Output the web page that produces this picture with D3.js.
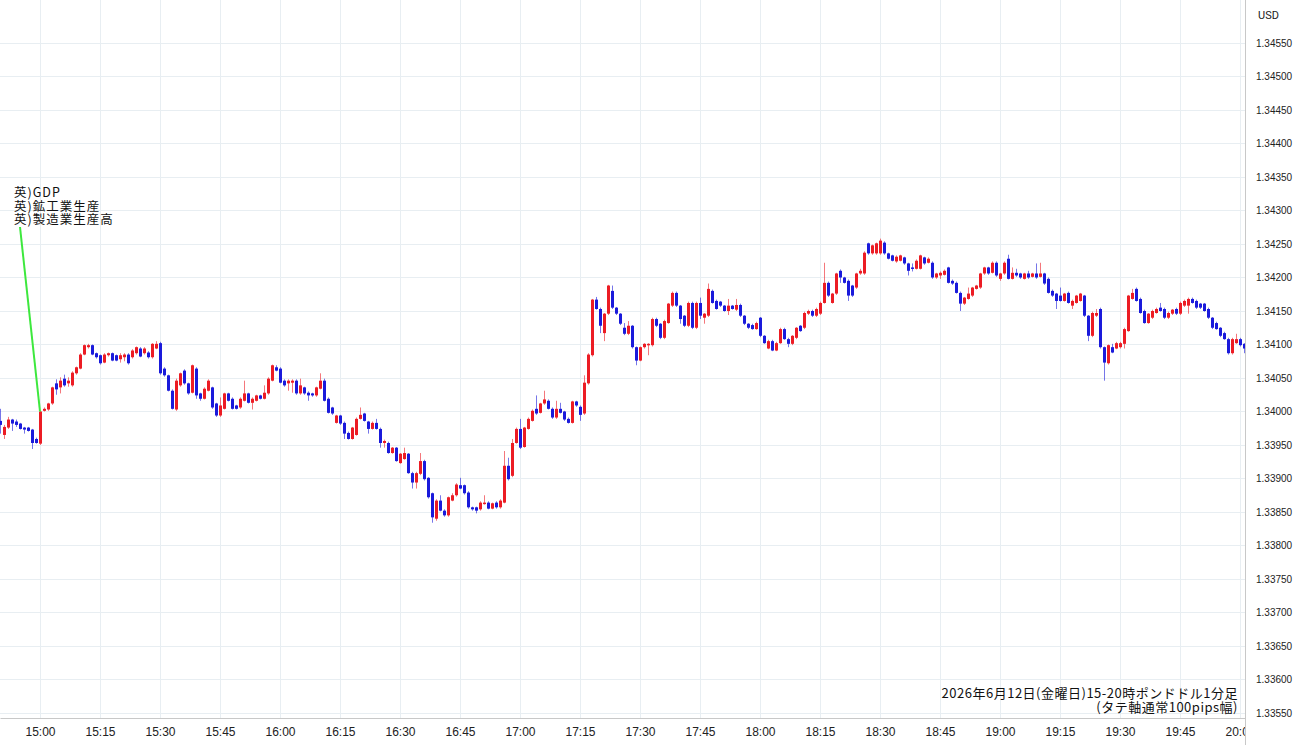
<!DOCTYPE html>
<html>
<head>
<meta charset="utf-8">
<script src="https://cdn.jsdelivr.net/npm/d3@7"></script>
<style>
body { margin: 0; background: #fff; }
svg { display: block; font-family: Roboto, "Noto Sans", sans-serif; }
</style>
</head>
<body>
<div id="chart"></div>
<script>
// 1 minute GBP/USD candles, first candle at 14:50
var startTime = new Date(2026, 5, 12, 14, 50);

var opens = [
1.33986,1.33965,1.33976,1.33988,1.33985,1.33982,1.33976,1.33976,1.33973,1.33959,
1.33952,1.34001,1.34003,1.34012,1.34042,1.34036,1.34049,1.34042,1.34039,1.34057,
1.34064,1.34085,1.34096,1.34099,1.34087,1.34084,1.34073,1.34084,1.34087,1.34084,
1.34078,1.34081,1.34085,1.34081,1.34087,1.34094,1.34087,1.34088,1.34081,1.34094,
1.34102,1.34064,1.34054,1.34031,1.34003,1.34039,1.34061,1.34042,1.34028,1.34064,
1.34027,1.34019,1.34031,1.34036,1.34012,1.33994,1.34004,1.34027,1.34019,1.34009,
1.34006,1.34016,1.34027,1.34013,1.34016,1.34024,1.34019,1.34027,1.34046,1.34066,
1.34064,1.34046,1.34042,1.34043,1.34046,1.34027,1.34036,1.34028,1.34027,1.34024,
1.34034,1.34046,1.34019,1.34006,1.33983,1.33994,1.33983,1.33968,1.33959,1.33965,
1.33989,1.33997,1.33985,1.33974,1.33983,1.33974,1.33953,1.33953,1.33938,1.33946,
1.33923,1.33929,1.33937,1.33908,1.33894,1.33907,1.33926,1.33901,1.33878,1.33840,
1.33867,1.33852,1.33845,1.33867,1.33875,1.33890,1.33890,1.33879,1.33857,1.33857,
1.33854,1.33863,1.33864,1.33855,1.33864,1.33857,1.33864,1.33919,1.33904,1.33953,
1.33974,1.33947,1.33974,1.33986,1.34004,1.33998,1.34012,1.34016,1.34004,1.33991,
1.34004,1.34000,1.33989,1.33983,1.34015,1.34007,1.33997,1.34042,1.34084,1.34167,
1.34153,1.34117,1.34146,1.34180,1.34155,1.34146,1.34125,1.34116,1.34128,1.34096,
1.34076,1.34096,1.34099,1.34099,1.34138,1.34131,1.34110,1.34132,1.34158,1.34177,
1.34158,1.34143,1.34128,1.34162,1.34125,1.34162,1.34140,1.34143,1.34180,1.34165,
1.34164,1.34158,1.34150,1.34158,1.34152,1.34159,1.34143,1.34131,1.34129,1.34123,
1.34140,1.34113,1.34094,1.34105,1.34091,1.34102,1.34123,1.34108,1.34101,1.34110,
1.34128,1.34125,1.34146,1.34150,1.34143,1.34146,1.34162,1.34192,1.34162,1.34176,
1.34210,1.34200,1.34195,1.34188,1.34185,1.34206,1.34206,1.34251,1.34236,1.34236,
1.34236,1.34252,1.34236,1.34233,1.34224,1.34225,1.34230,1.34221,1.34215,1.34213,
1.34213,1.34230,1.34222,1.34222,1.34200,1.34203,1.34204,1.34215,1.34195,1.34192,
1.34177,1.34161,1.34168,1.34173,1.34183,1.34185,1.34206,1.34215,1.34207,1.34222,
1.34198,1.34206,1.34228,1.34198,1.34207,1.34206,1.34198,1.34206,1.34201,1.34206,
1.34201,1.34206,1.34198,1.34180,1.34176,1.34173,1.34165,1.34177,1.34158,1.34162,
1.34165,1.34173,1.34143,1.34113,1.34143,1.34153,1.34096,1.34072,1.34096,1.34094,
1.34096,1.34101,1.34120,1.34168,1.34183,1.34168,1.34150,1.34132,1.34140,1.34147,
1.34155,1.34153,1.34140,1.34146,1.34153,1.34146,1.34158,1.34158,1.34168,1.34165,
1.34161,1.34161,1.34153,1.34140,1.34132,1.34125,1.34117,1.34108,1.34087,1.34102,
1.34108,1.34101
];

var highs = [
1.34004,1.33980,1.33992,1.33989,1.33988,1.33983,1.33977,1.33977,1.33974,1.33961,
1.34001,1.34006,1.34013,1.34037,1.34048,1.34051,1.34055,1.34051,1.34060,1.34067,
1.34087,1.34100,1.34101,1.34100,1.34088,1.34085,1.34087,1.34088,1.34088,1.34085,
1.34087,1.34087,1.34087,1.34093,1.34097,1.34096,1.34096,1.34090,1.34102,1.34105,
1.34104,1.34066,1.34055,1.34033,1.34049,1.34058,1.34063,1.34043,1.34070,1.34066,
1.34028,1.34036,1.34048,1.34037,1.34013,1.34021,1.34028,1.34028,1.34021,1.34010,
1.34021,1.34046,1.34028,1.34021,1.34025,1.34025,1.34039,1.34051,1.34070,1.34069,
1.34066,1.34048,1.34048,1.34048,1.34048,1.34049,1.34037,1.34030,1.34028,1.34037,
1.34057,1.34049,1.34021,1.34007,1.33995,1.33995,1.33985,1.33970,1.33977,1.33991,
1.34006,1.33998,1.33986,1.33985,1.33989,1.33976,1.33958,1.33955,1.33947,1.33947,
1.33938,1.33946,1.33938,1.33910,1.33910,1.33938,1.33928,1.33902,1.33879,1.33869,
1.33875,1.33854,1.33873,1.33878,1.33893,1.33901,1.33891,1.33881,1.33858,1.33858,
1.33866,1.33875,1.33866,1.33864,1.33866,1.33869,1.33941,1.33931,1.33959,1.33976,
1.33989,1.33977,1.33991,1.34003,1.34024,1.34013,1.34031,1.34018,1.34006,1.34016,
1.34013,1.34001,1.33991,1.34016,1.34016,1.34009,1.34054,1.34087,1.34168,1.34171,
1.34155,1.34147,1.34189,1.34188,1.34156,1.34147,1.34132,1.34135,1.34129,1.34097,
1.34097,1.34102,1.34102,1.34140,1.34140,1.34132,1.34137,1.34162,1.34179,1.34179,
1.34159,1.34144,1.34164,1.34164,1.34164,1.34170,1.34147,1.34191,1.34182,1.34167,
1.34165,1.34159,1.34168,1.34159,1.34168,1.34161,1.34144,1.34132,1.34131,1.34134,
1.34141,1.34114,1.34107,1.34107,1.34104,1.34125,1.34125,1.34110,1.34114,1.34126,
1.34129,1.34149,1.34152,1.34152,1.34155,1.34164,1.34222,1.34194,1.34177,1.34207,
1.34212,1.34201,1.34197,1.34189,1.34207,1.34213,1.34239,1.34252,1.34249,1.34252,
1.34258,1.34254,1.34237,1.34234,1.34233,1.34234,1.34231,1.34222,1.34221,1.34227,
1.34234,1.34231,1.34230,1.34224,1.34207,1.34209,1.34212,1.34216,1.34197,1.34194,
1.34179,1.34171,1.34185,1.34186,1.34189,1.34207,1.34216,1.34216,1.34224,1.34224,
1.34207,1.34224,1.34234,1.34215,1.34213,1.34207,1.34207,1.34210,1.34207,1.34221,
1.34222,1.34207,1.34200,1.34182,1.34177,1.34185,1.34177,1.34179,1.34167,1.34174,
1.34177,1.34174,1.34144,1.34149,1.34153,1.34155,1.34097,1.34100,1.34101,1.34104,
1.34104,1.34125,1.34174,1.34183,1.34185,1.34170,1.34152,1.34147,1.34152,1.34155,
1.34162,1.34155,1.34149,1.34153,1.34155,1.34164,1.34167,1.34170,1.34170,1.34167,
1.34162,1.34162,1.34155,1.34141,1.34134,1.34126,1.34119,1.34110,1.34110,1.34116,
1.34110,1.34102
];

var lows = [
1.33967,1.33959,1.33974,1.33971,1.33977,1.33973,1.33967,1.33970,1.33944,1.33952,
1.33950,1.34000,1.34001,1.34010,1.34025,1.34027,1.34037,1.34037,1.34037,1.34055,
1.34063,1.34084,1.34094,1.34084,1.34079,1.34070,1.34072,1.34082,1.34075,1.34075,
1.34073,1.34075,1.34070,1.34079,1.34085,1.34081,1.34085,1.34079,1.34079,1.34093,
1.34055,1.34052,1.34030,1.34003,1.34001,1.34037,1.34040,1.34025,1.34027,1.34019,
1.34016,1.34018,1.34030,1.34004,1.33992,1.33992,1.34003,1.34015,1.34003,1.34003,
1.34004,1.34015,1.34012,1.34003,1.34015,1.34018,1.34018,1.34025,1.34045,1.34060,
1.34042,1.34037,1.34031,1.34028,1.34025,1.34025,1.34025,1.34016,1.34022,1.34022,
1.34033,1.34015,1.33997,1.33995,1.33982,1.33980,1.33959,1.33958,1.33958,1.33964,
1.33988,1.33985,1.33967,1.33973,1.33973,1.33946,1.33946,1.33937,1.33937,1.33925,
1.33922,1.33928,1.33907,1.33885,1.33885,1.33905,1.33897,1.33870,1.33834,1.33837,
1.33851,1.33843,1.33843,1.33866,1.33873,1.33884,1.33876,1.33855,1.33852,1.33848,
1.33852,1.33861,1.33854,1.33854,1.33855,1.33855,1.33863,1.33897,1.33902,1.33952,
1.33944,1.33946,1.33973,1.33985,1.33995,1.33997,1.34010,1.34003,1.33989,1.33989,
1.33997,1.33986,1.33982,1.33982,1.34007,1.33986,1.33995,1.34040,1.34082,1.34152,
1.34117,1.34105,1.34144,1.34153,1.34144,1.34129,1.34114,1.34114,1.34094,1.34069,
1.34075,1.34094,1.34084,1.34097,1.34126,1.34108,1.34108,1.34131,1.34156,1.34156,
1.34131,1.34126,1.34126,1.34123,1.34123,1.34138,1.34131,1.34141,1.34161,1.34152,
1.34156,1.34149,1.34144,1.34152,1.34150,1.34141,1.34129,1.34123,1.34122,1.34122,
1.34111,1.34101,1.34093,1.34090,1.34090,1.34101,1.34107,1.34096,1.34099,1.34108,
1.34119,1.34123,1.34144,1.34141,1.34141,1.34144,1.34161,1.34171,1.34161,1.34174,
1.34192,1.34191,1.34165,1.34171,1.34183,1.34204,1.34204,1.34234,1.34234,1.34234,
1.34234,1.34234,1.34227,1.34224,1.34222,1.34224,1.34219,1.34203,1.34209,1.34212,
1.34212,1.34219,1.34221,1.34198,1.34198,1.34198,1.34203,1.34191,1.34189,1.34176,
1.34150,1.34159,1.34167,1.34171,1.34182,1.34183,1.34204,1.34204,1.34206,1.34201,
1.34195,1.34204,1.34197,1.34197,1.34201,1.34198,1.34197,1.34198,1.34200,1.34198,
1.34200,1.34189,1.34176,1.34171,1.34153,1.34164,1.34164,1.34161,1.34153,1.34161,
1.34164,1.34141,1.34105,1.34111,1.34141,1.34094,1.34046,1.34070,1.34087,1.34093,
1.34094,1.34094,1.34119,1.34167,1.34164,1.34146,1.34131,1.34131,1.34138,1.34146,
1.34149,1.34138,1.34138,1.34144,1.34144,1.34144,1.34156,1.34146,1.34161,1.34153,
1.34153,1.34149,1.34138,1.34123,1.34122,1.34111,1.34107,1.34085,1.34085,1.34101,
1.34097,1.34087
];

var closes = [
1.33980,1.33977,1.33988,1.33982,1.33980,1.33974,1.33973,1.33971,1.33953,1.33953,
1.34000,1.34004,1.34012,1.34036,1.34033,1.34046,1.34039,1.34046,1.34058,1.34066,
1.34085,1.34099,1.34099,1.34085,1.34081,1.34072,1.34085,1.34087,1.34076,1.34076,
1.34084,1.34085,1.34072,1.34091,1.34096,1.34082,1.34094,1.34081,1.34101,1.34101,
1.34057,1.34054,1.34031,1.34004,1.34046,1.34057,1.34042,1.34027,1.34069,1.34024,
1.34019,1.34034,1.34046,1.34006,1.33994,1.34009,1.34027,1.34016,1.34004,1.34004,
1.34019,1.34027,1.34013,1.34019,1.34024,1.34019,1.34028,1.34049,1.34069,1.34061,
1.34043,1.34039,1.34046,1.34046,1.34027,1.34039,1.34027,1.34024,1.34024,1.34036,
1.34046,1.34016,1.33998,1.33997,1.33994,1.33982,1.33967,1.33959,1.33976,1.33989,
1.33995,1.33986,1.33974,1.33983,1.33974,1.33953,1.33956,1.33938,1.33946,1.33926,
1.33937,1.33938,1.33908,1.33894,1.33908,1.33926,1.33899,1.33872,1.33842,1.33867,
1.33852,1.33845,1.33872,1.33875,1.33891,1.33885,1.33878,1.33857,1.33854,1.33852,
1.33864,1.33864,1.33855,1.33863,1.33857,1.33867,1.33919,1.33899,1.33953,1.33974,
1.33946,1.33976,1.33989,1.34001,1.33997,1.34012,1.34018,1.34004,1.33991,1.34004,
1.33998,1.33988,1.33983,1.34015,1.34009,1.33995,1.34043,1.34085,1.34167,1.34153,
1.34128,1.34146,1.34188,1.34155,1.34146,1.34131,1.34116,1.34128,1.34096,1.34076,
1.34096,1.34101,1.34101,1.34138,1.34128,1.34110,1.34135,1.34161,1.34177,1.34158,
1.34138,1.34128,1.34162,1.34125,1.34162,1.34143,1.34146,1.34183,1.34162,1.34153,
1.34158,1.34150,1.34158,1.34153,1.34159,1.34143,1.34131,1.34125,1.34123,1.34132,
1.34113,1.34102,1.34105,1.34091,1.34102,1.34123,1.34108,1.34101,1.34113,1.34125,
1.34120,1.34147,1.34150,1.34143,1.34153,1.34162,1.34192,1.34173,1.34176,1.34206,
1.34200,1.34192,1.34173,1.34173,1.34206,1.34210,1.34237,1.34236,1.34248,1.34251,
1.34255,1.34236,1.34228,1.34225,1.34231,1.34233,1.34221,1.34210,1.34213,1.34225,
1.34233,1.34221,1.34228,1.34200,1.34206,1.34207,1.34210,1.34192,1.34191,1.34177,
1.34161,1.34170,1.34176,1.34185,1.34188,1.34206,1.34215,1.34206,1.34222,1.34203,
1.34206,1.34222,1.34198,1.34207,1.34203,1.34200,1.34206,1.34200,1.34206,1.34200,
1.34206,1.34191,1.34177,1.34173,1.34165,1.34165,1.34176,1.34162,1.34165,1.34173,
1.34176,1.34143,1.34113,1.34147,1.34147,1.34096,1.34073,1.34099,1.34088,1.34102,
1.34102,1.34123,1.34173,1.34177,1.34165,1.34147,1.34132,1.34146,1.34150,1.34153,
1.34150,1.34140,1.34147,1.34152,1.34146,1.34162,1.34165,1.34168,1.34162,1.34155,
1.34155,1.34150,1.34140,1.34125,1.34123,1.34113,1.34108,1.34087,1.34108,1.34108,
1.34099,1.34094
];

var priceTicks = [1.3355,1.3360,1.3365,1.3370,1.3375,1.3380,1.3385,1.3390,1.3395,1.3400,
  1.3405,1.3410,1.3415,1.3420,1.3425,1.3430,1.3435,1.3440,1.3445,1.3450,1.3455];
var timeTicks = ["15:00","15:15","15:30","15:45","16:00","16:15","16:30","16:45","17:00",
  "17:15","17:30","17:45","18:00","18:15","18:30","18:45","19:00","19:15","19:30","19:45","20:00"];
var eventLabels = ["英)GDP", "英)鉱工業生産", "英)製造業生産高"];
var eventTime = "15:00";
var captionLines = ["2026年6月12日(金曜日)15-20時ポンドドル1分足", "(タテ軸通常100pips幅)"];
var currency = "USD";

var width = 1300, height = 745;
var plotRight = 1245, plotBottom = 718;
var upColor = "#ec1c24", downColor = "#1a1adb";
var gridColor = "#e8eef2";

function atTime(s) {
  var p = s.split(":");
  return new Date(2026, 5, 12, +p[0], +p[1]);
}

var candles = closes.map(function(c, i) {
  return {t: d3.timeMinute.offset(startTime, i), o: opens[i], h: highs[i], l: lows[i], c: c};
});

var x = d3.scaleTime()
  .domain([startTime, new Date(startTime.getTime() + 311.25 * 60000)])
  .range([0, plotRight]);
var y = d3.scaleLinear()
  .domain([1.3355, 1.3455])
  .range([713, 43]);

var svg = d3.select("#chart").append("svg")
  .attr("width", width)
  .attr("height", height);

svg.append("rect").attr("width", width).attr("height", height).attr("fill", "#fff");

// grid
var grid = svg.append("g");
grid.selectAll("line.h")
  .data(priceTicks)
  .enter().append("line")
  .attr("x1", 0).attr("x2", plotRight)
  .attr("y1", function(d){ return Math.round(y(d)) + 0.5; })
  .attr("y2", function(d){ return Math.round(y(d)) + 0.5; })
  .attr("stroke", gridColor);
grid.selectAll("line.v")
  .data(timeTicks)
  .enter().append("line")
  .attr("x1", function(d){ return Math.round(x(atTime(d))) + 0.5; })
  .attr("x2", function(d){ return Math.round(x(atTime(d))) + 0.5; })
  .attr("y1", 0).attr("y2", plotBottom)
  .attr("stroke", gridColor);

// candles
var g = svg.append("g");
var cx = function(d){ return Math.round(x(d.t)); };
g.selectAll("line.wick")
  .data(candles)
  .enter().append("line")
  .attr("x1", function(d){ return cx(d) + 0.5; })
  .attr("x2", function(d){ return cx(d) + 0.5; })
  .attr("y1", function(d){ return y(d.h); })
  .attr("y2", function(d){ return y(d.l); })
  .attr("stroke", function(d){ return d.c >= d.o ? upColor : downColor; })
  .attr("stroke-opacity", 0.6);
g.selectAll("rect.body")
  .data(candles)
  .enter().append("rect")
  .attr("x", function(d){ return cx(d) - 1; })
  .attr("width", 3)
  .attr("y", function(d){ return y(Math.max(d.o, d.c)); })
  .attr("height", function(d){ return Math.max(1.5, Math.abs(y(d.o) - y(d.c))); })
  .attr("fill", function(d){ return d.c >= d.o ? upColor : downColor; });

// event annotation
var ev = svg.append("g");
ev.append("line")
  .attr("x1", 20).attr("y1", 227)
  .attr("x2", x(atTime(eventTime))).attr("y2", y(closes[10]))
  .attr("stroke", "#3de83d")
  .attr("stroke-width", 2);
ev.selectAll("text")
  .data(eventLabels)
  .enter().append("text")
  .attr("x", 14)
  .attr("y", function(d, i){ return 197 + i * 13.5; })
  .style("font-family", "'Noto Sans CJK JP', sans-serif")
  .style("font-size", "12.5px")
  .style("letter-spacing", "1px")
  .attr("fill", "#111")
  .text(function(d){ return d; });

// caption
svg.selectAll("text.cap")
  .data(captionLines)
  .enter().append("text")
  .attr("x", 1238)
  .attr("y", function(d, i){ return 698 + i * 14; })
  .attr("text-anchor", "end")
  .style("font-family", "'Noto Sans CJK JP', sans-serif")
  .style("font-size", "13px")
  .style("letter-spacing", "0.5px")
  .attr("fill", "#111")
  .text(function(d){ return d; });

// time axis
var xAxis = svg.append("g")
  .attr("transform", "translate(0," + plotBottom + ")")
  .call(d3.axisBottom(x)
    .tickValues(timeTicks.map(atTime))
    .tickFormat(d3.timeFormat("%H:%M"))
    .tickSize(0)
    .tickPadding(9));
xAxis.select(".domain").attr("stroke", "#c8c8c8");
xAxis.selectAll("text").attr("fill", "#222").style("font-size", "12px");

// price axis panel
svg.append("rect")
  .attr("x", plotRight).attr("y", 0)
  .attr("width", width - plotRight).attr("height", height)
  .attr("fill", "#fff");
svg.append("line")
  .attr("x1", plotRight + 0.5).attr("x2", plotRight + 0.5)
  .attr("y1", 0).attr("y2", height)
  .attr("stroke", "#c8c8c8");
var yAxis = svg.append("g")
  .attr("transform", "translate(" + plotRight + ",0)")
  .call(d3.axisRight(y)
    .tickValues(priceTicks)
    .tickFormat(d3.format(".5f"))
    .tickSize(0)
    .tickPadding(11));
yAxis.select(".domain").remove();
yAxis.selectAll("text").attr("fill", "#222").style("font-size", "10px");

svg.append("text")
  .attr("x", 1258).attr("y", 19)
  .style("font-size", "11px")
  .attr("fill", "#222")
  .text(currency);
</script>
</body>
</html>
